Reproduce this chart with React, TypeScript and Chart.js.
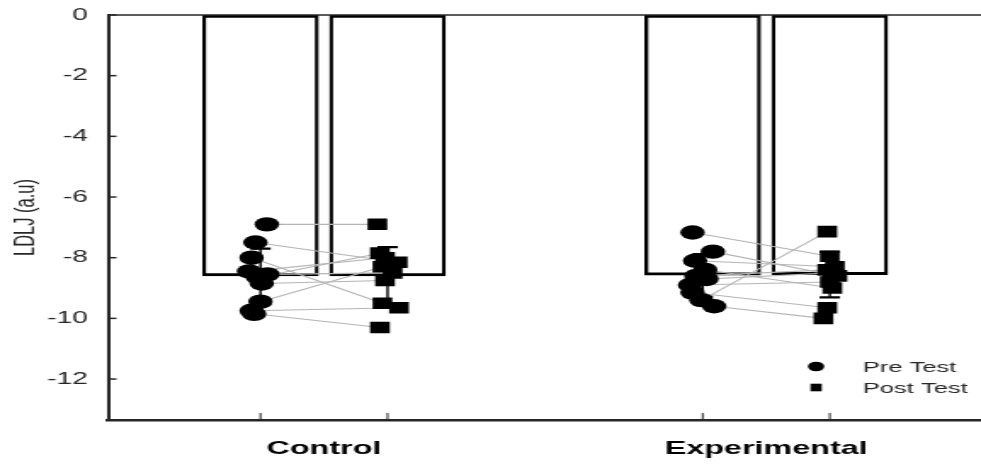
import React, { useEffect, useRef } from 'react';
import { Chart, registerables } from 'chart.js';

Chart.register(...registerables);

// ---- data ----
const categories = ['Control', 'Experimental'];
const groupCenters = [1.7, 5.18];
const barPositions = [1.2, 2.2, 4.68, 5.68]; // Control pre, Control post, Exp pre, Exp post
const barMeans = [-8.6, -8.6, -8.58, -8.56];
const barErrors = [0.9, 0.95, 0.7, 0.75];
const yTickValues = [0, -2, -4, -6, -8, -10, -12];

// subjects (index i of pre pairs with index i of post)
const controlPre = [-6.9, -7.5, -8.0, -8.45, -8.55, -8.65, -8.85, -9.45, -9.75, -9.85];
const controlPreJitter = [0.05, -0.04, -0.07, -0.09, 0.055, -0.02, 0.01, 0.0, -0.07, -0.05];
const controlPost = [-6.9, -8.15, -9.5, -8.0, -8.5, -7.85, -8.75, -8.3, -9.65, -10.3];
const controlPostJitter = [-0.08, 0.08, -0.04, -0.02, 0.04, -0.06, -0.02, -0.04, 0.09, -0.06];

const expPre = [-7.17, -7.8, -8.1, -8.4, -8.6, -8.7, -8.9, -9.15, -9.4, -9.6];
const expPreJitter = [-0.08, 0.08, -0.06, 0.02, -0.05, 0.03, -0.1, -0.08, -0.01, 0.09];
const expPost = [-7.95, -8.6, -8.3, -9.0, -8.4, -8.5, -8.8, -9.65, -7.14, -10.0];
const expPostJitter = [0, 0.06, 0.04, 0.02, -0.02, 0.02, 0, -0.02, -0.02, -0.05];

const legendLabels = ['Pre Test', 'Post Test'];

// ---- layout / style ----
const FONT = '"Liberation Sans", Arial, Helvetica, sans-serif';
const AXIS = '#262626';
const STRETCH = 1.7;
const W = 981;
const H = 466;
const IW = Math.round(W / STRETCH);

export default function App() {
  const ref = useRef<HTMLCanvasElement>(null);

  useEffect(() => {
    const canvas = ref.current;
    if (!canvas) return;

    const prePoints = [
      ...controlPre.map((v, i) => ({ x: barPositions[0] + controlPreJitter[i], y: v })),
      ...expPre.map((v, i) => ({ x: barPositions[2] + expPreJitter[i], y: v })),
    ];
    const postPoints = [
      ...controlPost.map((v, i) => ({ x: barPositions[1] + controlPostJitter[i], y: v })),
      ...expPost.map((v, i) => ({ x: barPositions[3] + expPostJitter[i], y: v })),
    ];

    const lineDatasets: any[] = [];
    controlPre.forEach((v, i) => {
      lineDatasets.push({
        type: 'line',
        data: [
          { x: barPositions[0] + controlPreJitter[i], y: v },
          { x: barPositions[1] + controlPostJitter[i], y: controlPost[i] },
        ],
        borderColor: '#b5b5b5',
        borderWidth: 1.1,
        pointRadius: 0,
        order: 5,
      });
    });
    expPre.forEach((v, i) => {
      lineDatasets.push({
        type: 'line',
        data: [
          { x: barPositions[2] + expPreJitter[i], y: v },
          { x: barPositions[3] + expPostJitter[i], y: expPost[i] },
        ],
        borderColor: '#b5b5b5',
        borderWidth: 1.1,
        pointRadius: 0,
        order: 5,
      });
    });

    const decorPlugin = {
      id: 'decor',
      afterDatasetDraw(chart: any, args: any) {
        if (args.meta.type !== 'bar') return;
        const { ctx, scales } = chart;
        const x = scales.x;
        const y = scales.y;
        ctx.save();
        ctx.strokeStyle = '#000';
        barPositions.forEach((p, i) => {
          const px = x.getPixelForValue(p);
          const yt = y.getPixelForValue(barMeans[i] + barErrors[i]);
          const yb = y.getPixelForValue(barMeans[i] - barErrors[i]);
          ctx.lineWidth = 1.4;
          ctx.beginPath();
          ctx.moveTo(px, yt);
          ctx.lineTo(px, yb);
          ctx.stroke();
          ctx.lineWidth = 2.2;
          ctx.beginPath();
          ctx.moveTo(px - 6, yt);
          ctx.lineTo(px + 6, yt);
          ctx.moveTo(px - 6, yb);
          ctx.lineTo(px + 6, yb);
          ctx.stroke();
        });
        ctx.restore();
      },
      afterDraw(chart: any) {
        const { ctx, chartArea, scales } = chart;
        const x = scales.x;
        const y = scales.y;
        ctx.save();
        ctx.strokeStyle = AXIS;
        // top frame line
        ctx.lineWidth = 1.5;
        ctx.beginPath();
        ctx.moveTo(chartArea.left, chartArea.top);
        ctx.lineTo(chartArea.right, chartArea.top);
        ctx.stroke();
        // inward y ticks
        ctx.lineWidth = 1.5;
        yTickValues.forEach((v) => {
          const py = y.getPixelForValue(v);
          ctx.beginPath();
          ctx.moveTo(chartArea.left, py);
          ctx.lineTo(chartArea.left + 5, py);
          ctx.stroke();
        });
        // inward x ticks at bar centres
        ctx.lineWidth = 1;
        barPositions.forEach((p) => {
          const px = x.getPixelForValue(p);
          ctx.beginPath();
          ctx.moveTo(px, chartArea.bottom);
          ctx.lineTo(px, chartArea.bottom - 7);
          ctx.stroke();
        });
        // legend
        const lx = chartArea.right - 97;
        const tx = chartArea.right - 69.5;
        const ly = [366.5, 387.5];
        ctx.fillStyle = '#000';
        ctx.beginPath();
        ctx.arc(lx, ly[0], 4.8, 0, Math.PI * 2);
        ctx.fill();
        ctx.fillRect(lx - 3.3, ly[1] - 3.8, 6.6, 7.6);
        ctx.fillStyle = AXIS;
        ctx.font = `15px ${FONT}`;
        ctx.textBaseline = 'middle';
        ctx.textAlign = 'left';
        legendLabels.forEach((t, i) => ctx.fillText(t, tx, ly[i] + 1));
        ctx.restore();
      },
    };

    const chart = new Chart(canvas, {
      type: 'scatter',
      data: {
        datasets: [
          {
            type: 'bar',
            data: barPositions.map((p, i) => ({ x: p, y: barMeans[i] })),
            backgroundColor: '#ffffff',
            borderColor: '#000000',
            borderWidth: { left: 2.3, right: 2.3, top: 3, bottom: 3 },
            borderSkipped: false,
            barThickness: 68,
            order: 10,
          } as any,
          ...lineDatasets,
          {
            type: 'scatter',
            label: legendLabels[0],
            data: prePoints,
            pointStyle: 'circle',
            pointRadius: 7.2,
            pointBackgroundColor: '#000',
            pointBorderWidth: 0,
            order: 1,
          },
          {
            type: 'scatter',
            label: legendLabels[1],
            data: postPoints,
            pointStyle: 'rect',
            pointRadius: 8.2,
            pointBackgroundColor: '#000',
            pointBorderWidth: 0,
            order: 1,
          },
        ],
      },
      options: {
        responsive: false,
        devicePixelRatio: 1,
        animation: false,
        events: [],
        layout: { autoPadding: false, padding: { top: 15, right: 0, left: 0, bottom: 0 } },
        plugins: {
          legend: { display: false },
          tooltip: { enabled: false },
        },
        scales: {
          x: {
            type: 'linear',
            min: 0,
            max: 6.87,
            offset: false,
            afterFit: (s: any) => {
              s.height = 46;
              s.paddingLeft = 0;
              s.paddingRight = 0;
            },
            afterBuildTicks: (s: any) => {
              s.ticks = groupCenters.map((v) => ({ value: v }));
            },
            ticks: {
              callback: (_v: any, i: number) => categories[i],
              font: { family: FONT, size: 19, weight: 'bold' },
              color: '#000',
              padding: 17,
              maxRotation: 0,
              autoSkip: false,
            },
            grid: { display: false, drawTicks: false, offset: false },
            border: { display: true, color: AXIS, width: 2.5 },
          },
          y: {
            type: 'linear',
            min: -13.35,
            max: 0,
            offset: false,
            afterFit: (s: any) => {
              s.width = 63.5;
              s.paddingTop = 0;
              s.paddingBottom = 0;
            },
            afterBuildTicks: (s: any) => {
              s.ticks = yTickValues.map((v) => ({ value: v }));
            },
            ticks: {
              callback: (v: any) => String(v),
              font: { family: FONT, size: 16.5 },
              color: AXIS,
              padding: 11.8,
            },
            grid: { display: false, drawTicks: false },
            border: { display: true, color: AXIS, width: 2 },
            title: {
              display: true,
              text: 'LDLJ (a.u)',
              font: { family: FONT, size: 16.5 },
              color: AXIS,
              padding: { top: 6, bottom: 0 },
            },
          },
        },
      } as any,
      plugins: [decorPlugin],
    });

    return () => chart.destroy();
  }, []);

  return (
    <div style={{ position: 'fixed', left: 0, top: 0, width: W, height: H, background: '#fff' }}>
      <canvas
        ref={ref}
        width={IW}
        height={H}
        style={{ width: `${W}px`, height: `${H}px`, display: 'block' }}
      />
    </div>
  );
}
